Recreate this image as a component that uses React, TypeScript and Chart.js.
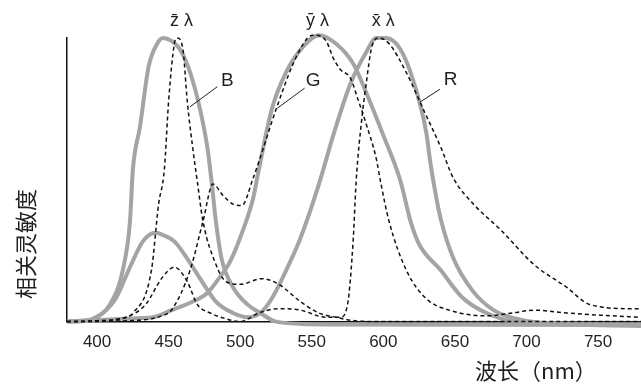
import React, { useEffect, useRef } from 'react';
import { Chart, registerables } from 'chart.js';

Chart.register(...registerables);

// x axis (wavelength, nm)
const xMin = 379;
const xMax = 780;
const xTicks = [400, 450, 500, 550, 600, 650, 700, 750];

// dashed CIE-like curves
const zBarWl = [379, 405, 416, 425, 438, 443, 447, 450, 454, 456, 460, 463, 467, 470, 474, 483, 490, 500, 515, 527, 542, 555, 567, 580, 600, 780];
const zBarVal = [0, 0.003, 0.01, 0.03, 0.18, 0.41, 0.53, 0.77, 0.97, 0.99, 0.95, 0.77, 0.6, 0.49, 0.35, 0.2, 0.14, 0.13, 0.15, 0.13, 0.07, 0.03, 0.015, 0.003, 0, 0];

const yBarWl = [379, 430, 445, 452, 465, 474, 481, 488, 495, 501, 509, 525, 537, 547, 551, 560, 565, 570, 577, 582, 588, 595, 598, 604, 616, 630, 646, 672, 690, 705, 728, 779];
const yBarVal = [0, 0.005, 0.02, 0.04, 0.18, 0.35, 0.48, 0.44, 0.41, 0.405, 0.5, 0.74, 0.9, 0.99, 1.0, 0.98, 0.92, 0.88, 0.85, 0.78, 0.69, 0.57, 0.49, 0.35, 0.18, 0.08, 0.04, 0.02, 0.03, 0.04, 0.03, 0.015];

const xBarWl = [379, 400, 420, 434, 445, 454, 463, 470, 479, 490, 500, 513, 527, 542, 560, 570, 575, 579, 581, 585, 588, 592, 597, 604, 616, 628, 640, 649, 663, 682, 705, 728, 744, 774, 780];
const xBarVal = [0, 0.003, 0.015, 0.06, 0.15, 0.19, 0.14, 0.06, 0.03, 0.01, 0, 0.03, 0.045, 0.04, 0.015, 0.015, 0.06, 0.29, 0.49, 0.71, 0.83, 0.96, 0.99, 0.97, 0.87, 0.74, 0.61, 0.5, 0.41, 0.32, 0.2, 0.12, 0.06, 0.045, 0.045];

// gray cone-like curves
const bWl = [379, 390, 397, 409, 418, 423, 425, 430, 436, 442, 446, 452, 458, 465, 472, 477, 480, 483, 487, 495, 505, 514, 525, 560, 780];
const bVal = [0, 0.003, 0.01, 0.06, 0.18, 0.35, 0.53, 0.68, 0.89, 0.97, 0.99, 0.98, 0.95, 0.87, 0.74, 0.61, 0.49, 0.35, 0.22, 0.12, 0.06, 0.03, 0, -0.01, -0.012];

const gWl = [379, 420, 439, 452, 467, 477, 485, 493, 502, 509, 513, 522, 532, 544, 555, 567, 579, 588, 600, 612, 619, 625, 640, 655, 672, 693, 780];
const gVal = [0, 0.01, 0.015, 0.04, 0.07, 0.1, 0.15, 0.21, 0.32, 0.43, 0.53, 0.74, 0.87, 0.96, 1.0, 0.97, 0.9, 0.8, 0.65, 0.49, 0.35, 0.27, 0.18, 0.085, 0.03, 0, -0.01];

const rWl = [379, 395, 404, 413, 423, 432, 441, 447, 454, 463, 472, 483, 495, 505, 514, 522, 535, 542, 555, 565, 577, 588, 595, 602, 612, 621, 630, 633, 636, 640, 649, 662, 677, 693, 710, 780];
const rVal = [0, 0.005, 0.03, 0.08, 0.19, 0.28, 0.31, 0.3, 0.28, 0.22, 0.15, 0.07, 0.03, 0.015, 0.03, 0.08, 0.21, 0.29, 0.48, 0.65, 0.83, 0.94, 0.99, 0.99, 0.95, 0.84, 0.66, 0.55, 0.46, 0.36, 0.22, 0.11, 0.04, 0.01, -0.005, -0.015];

// annotations (in data units)
const curveLabels = ['z\u0304 \u03bb', 'y\u0304 \u03bb', 'x\u0304 \u03bb'];
const curveLabelWl = [459, 554, 600];
const curveLabelVal = [1.05, 1.05, 1.05];
const coneLabels = ['B', 'G', 'R'];
const coneLabelWl = [491, 551, 647];
const coneLabelVal = [0.84, 0.84, 0.843];
const leaderFromWl = [465, 526, 625.5];
const leaderFromVal = [0.75, 0.745, 0.766];
const leaderToWl = [484, 545, 639.5];
const leaderToVal = [0.82, 0.815, 0.811];

const yTitle = '相关灵敏度';
const xTitle = '波长（nm）';

const pts = (wl: number[], v: number[]) => wl.map((x, i) => ({ x, y: v[i] }));

const TEXT = '#231f20';
const GRAY = '#a4a4a4';

const textPlugin = {
  id: 'textPlugin',
  afterDraw(chart: any) {
    const { ctx, scales } = chart;
    const xs = scales.x;
    const ys = scales.y;
    ctx.save();
    ctx.fillStyle = TEXT;
    ctx.strokeStyle = TEXT;
    ctx.textAlign = 'center';
    ctx.textBaseline = 'middle';
    ctx.font = '18px "Liberation Sans", "DejaVu Sans", sans-serif';
    curveLabels.forEach((t, i) => {
      ctx.fillText(t, xs.getPixelForValue(curveLabelWl[i]), ys.getPixelForValue(curveLabelVal[i]));
    });
    ctx.font = '19px "Liberation Sans", Arial, sans-serif';
    coneLabels.forEach((t, i) => {
      ctx.fillText(t, xs.getPixelForValue(coneLabelWl[i]), ys.getPixelForValue(coneLabelVal[i]));
    });
    ctx.lineWidth = 1;
    coneLabels.forEach((_, i) => {
      ctx.beginPath();
      ctx.moveTo(xs.getPixelForValue(leaderFromWl[i]), ys.getPixelForValue(leaderFromVal[i]));
      ctx.lineTo(xs.getPixelForValue(leaderToWl[i]), ys.getPixelForValue(leaderToVal[i]));
      ctx.stroke();
    });
    ctx.font = '22px "Noto Sans CJK SC", sans-serif';
    ctx.textAlign = 'left';
    ctx.fillText(xTitle, 475, 371);
    ctx.save();
    ctx.translate(26, 244);
    ctx.rotate(-Math.PI / 2);
    ctx.textAlign = 'center';
    ctx.fillText(yTitle, 0, 0);
    ctx.restore();
    ctx.restore();
  },
};

export default function App() {
  const ref = useRef<HTMLCanvasElement | null>(null);
  useEffect(() => {
    if (!ref.current) return;
    const dashed = (data: any[]) => ({
      data,
      borderColor: '#111',
      borderWidth: 1.5,
      borderDash: [4, 3],
      pointRadius: 0,
      fill: false,
      cubicInterpolationMode: 'monotone' as const,
      clip: false as any,
    });
    const solid = (data: any[]) => ({
      data,
      borderColor: GRAY,
      borderWidth: 4,
      pointRadius: 0,
      fill: false,
      cubicInterpolationMode: 'monotone' as const,
      clip: false as any,
    });
    const chart = new Chart(ref.current, {
      type: 'line',
      data: {
        datasets: [
          dashed(pts(zBarWl, zBarVal)),
          dashed(pts(yBarWl, yBarVal)),
          dashed(pts(xBarWl, xBarVal)),
          solid(pts(bWl, bVal)),
          solid(pts(gWl, gVal)),
          solid(pts(rWl, rVal)),
        ],
      },
      options: {
        responsive: false,
        animation: false,
        layout: { padding: { left: 67, right: 0, top: 38, bottom: 23 } },
        plugins: { legend: { display: false }, tooltip: { enabled: false } },
        scales: {
          x: {
            type: 'linear',
            min: xMin,
            max: xMax,
            grid: { display: false, drawTicks: false },
            border: { display: true, color: '#111', width: 1.5 },
            afterBuildTicks: (s: any) => {
              s.ticks = xTicks.map((v) => ({ value: v }));
            },
            ticks: {
              padding: 11,
              color: TEXT,
              font: { family: '"Liberation Sans", Arial, sans-serif', size: 17 },
              maxRotation: 0,
              autoSkip: false,
            },
          },
          y: {
            type: 'linear',
            min: 0,
            max: 0.99,
            grid: { display: false, drawTicks: false },
            border: { display: true, color: '#111', width: 1.5 },
            ticks: { display: false },
          },
        },
      },
      plugins: [textPlugin],
    });
    return () => chart.destroy();
  }, []);
  return (
    <div style={{ position: 'fixed', left: 0, top: 0, width: 641, height: 387, background: '#fff' }}>
      <canvas ref={ref} width={641} height={387} style={{ display: 'block' }} />
    </div>
  );
}
